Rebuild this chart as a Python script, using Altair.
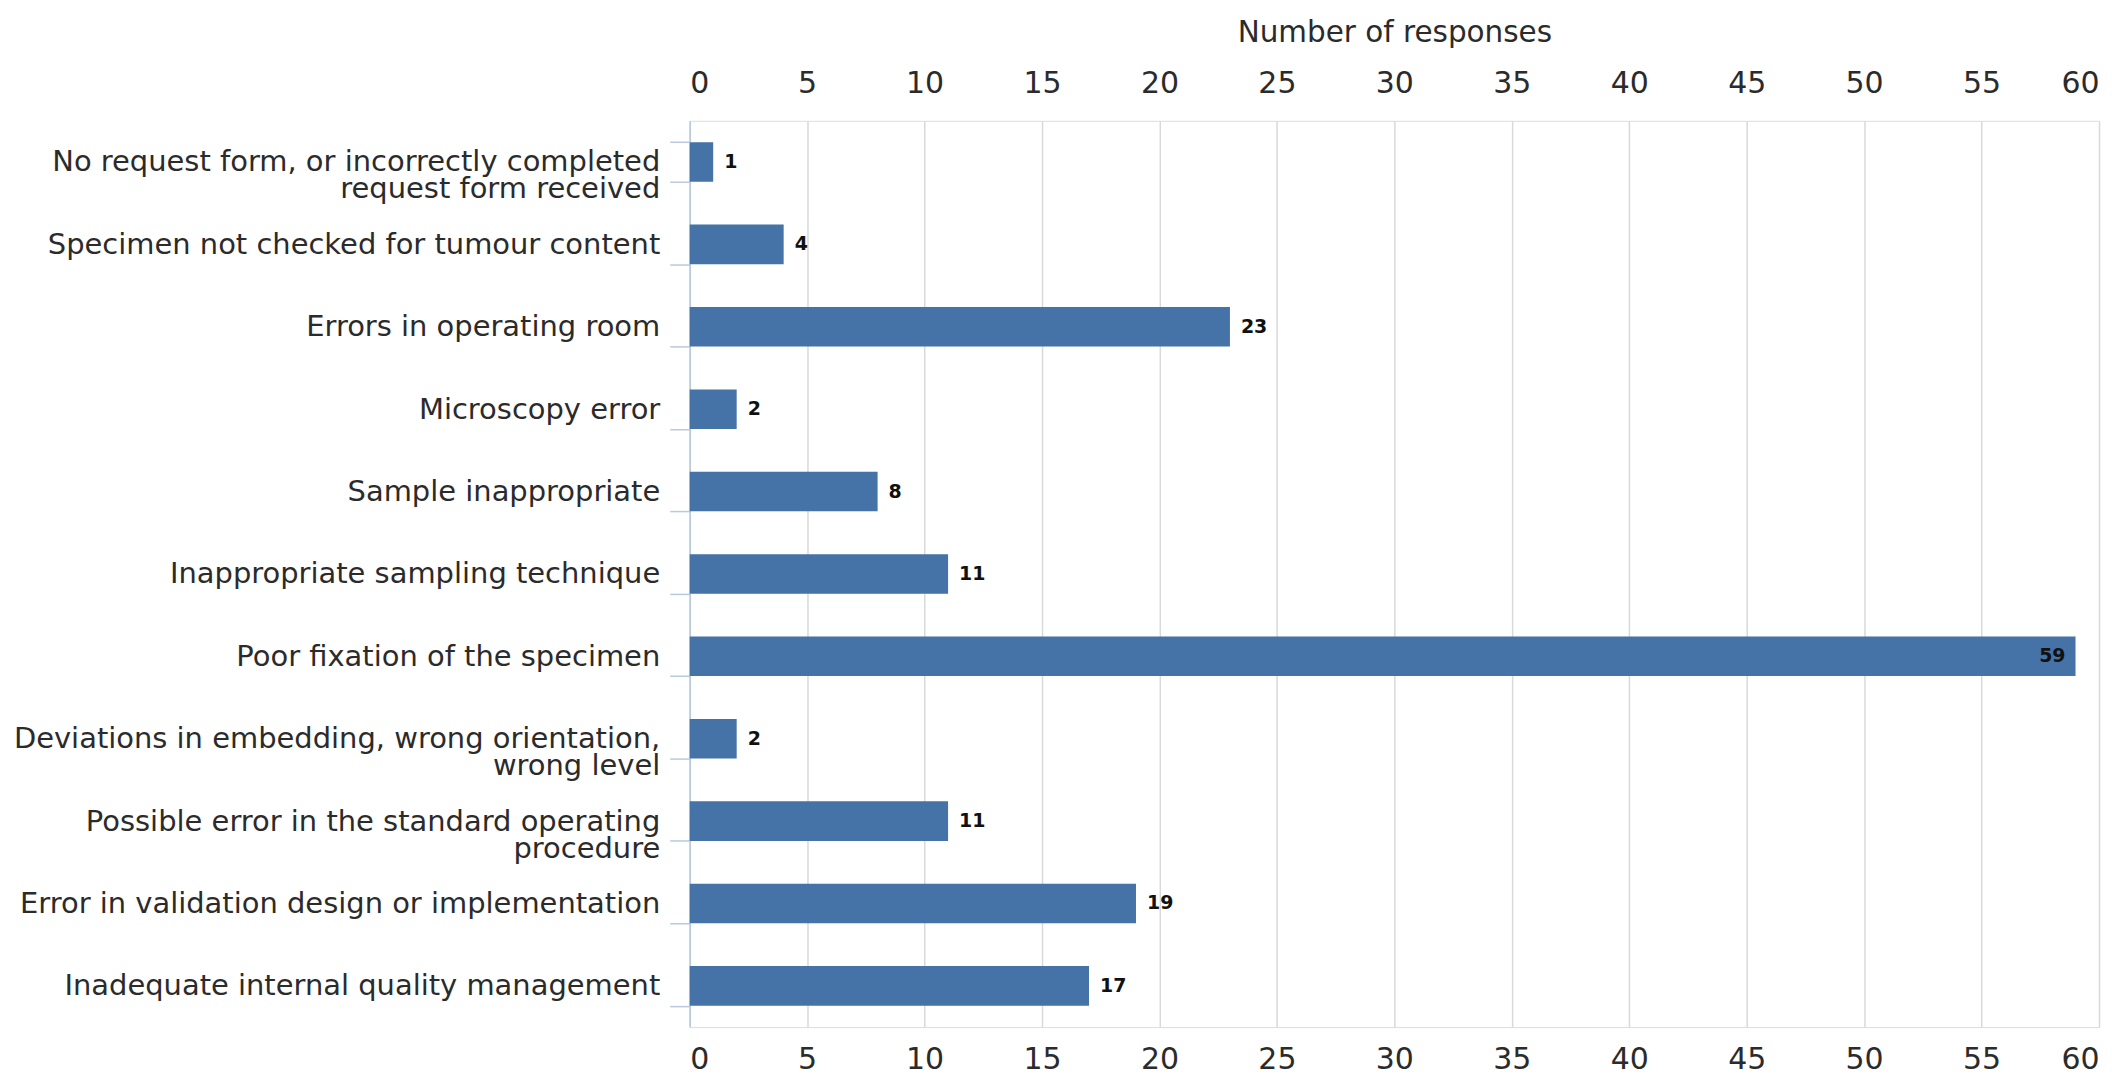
import altair as alt
import pandas as pd

categories = [
    "No request form, or incorrectly completed|request form received",
    "Specimen not checked for tumour content",
    "Errors in operating room",
    "Microscopy error",
    "Sample inappropriate",
    "Inappropriate sampling technique",
    "Poor fixation of the specimen",
    "Deviations in embedding, wrong orientation,|wrong level",
    "Possible error in the standard operating|procedure",
    "Error in validation design or implementation",
    "Inadequate internal quality management",
]
values = [1, 4, 23, 2, 8, 11, 59, 2, 11, 19, 17]
x_ticks = list(range(0, 61, 5))

df = pd.DataFrame({"category": categories, "value": values})

FONT = "DejaVu Sans"
BAR = "#4572A7"
TXT = "#2b2b2b"

y_enc = alt.Y(
    "category:N",
    sort=None,
    scale=alt.Scale(paddingInner=0.52, paddingOuter=0.26),
    axis=alt.Axis(
        title=None,
        labelExpr="split(datum.label, '|')",
        labelFont=FONT,
        labelFontSize=29,
        labelColor=TXT,
        labelLineHeight=27,
        labelPadding=10,
        labelLimit=0,
        tickBand="extent",
        tickSize=20,
        tickColor="#b9c9de",
        domainColor="#b9c9de",
        tickWidth=1.5,
        domainWidth=1.5,
        grid=False,
    ),
)

x_scale = alt.Scale(domain=[0, 60], nice=False)

bars = alt.Chart(df).mark_bar(color=BAR).encode(
    x=alt.X(
        "value:Q",
        scale=x_scale,
        axis=alt.Axis(
            orient="top",
            title="Number of responses",
            titleFont=FONT,
            titleFontSize=29.5,
            titleFontWeight="normal",
            titleColor=TXT,
            titlePadding=21,
            values=x_ticks,
            labelFont=FONT,
            labelFontSize=30,
            labelColor=TXT,
            labelPadding=22,
            ticks=False,
            domain=False,
            grid=True,
            gridColor="#d9d9d9",
            gridWidth=1.5,
        ),
    ),
    y=y_enc,
)

bottom_axis = alt.Chart(df).mark_bar(opacity=0).encode(
    x=alt.X(
        "value:Q",
        scale=x_scale,
        axis=alt.Axis(
            orient="bottom",
            title=None,
            values=x_ticks,
            labelFont=FONT,
            labelFontSize=30,
            labelColor=TXT,
            labelPadding=18,
            ticks=False,
            domain=False,
            grid=False,
        ),
    ),
    y=y_enc,
)

outside = alt.Chart(df).transform_filter("datum.value < 50").mark_text(
    align="left", baseline="middle", dx=11, font=FONT, fontSize=19,
    fontWeight="bold", color="#111111",
).encode(
    x=alt.X("value:Q", scale=x_scale, axis=None),
    y=y_enc,
    text=alt.Text("value:Q"),
)

inside = alt.Chart(df).transform_filter("datum.value >= 50").mark_text(
    align="right", baseline="middle", dx=-10, font=FONT, fontSize=19,
    fontWeight="bold", color="#111111",
).encode(
    x=alt.X("value:Q", scale=x_scale, axis=None),
    y=y_enc,
    text=alt.Text("value:Q"),
)

chart = alt.layer(bars, bottom_axis, outside, inside).resolve_axis(x="independent").properties(
    width=1412, height=908,
    padding={"left": 5, "top": 9, "right": 5, "bottom": 5},
).configure_view(stroke=None).configure(background="white")

chart.save("out.html", embed_options={"renderer": "svg", "actions": False})
